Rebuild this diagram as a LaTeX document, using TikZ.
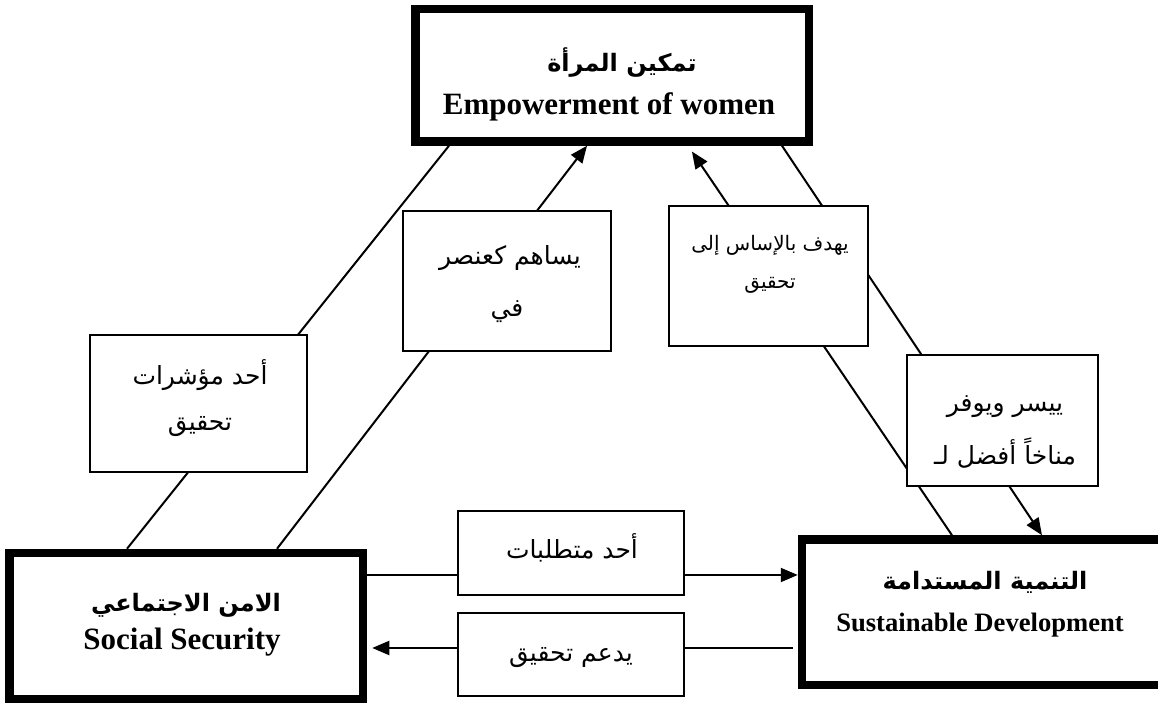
\documentclass[tikz,border=0pt]{standalone}
\usepackage{fontspec}
\setmainfont{Liberation Serif}
\newfontfamily\arabicfont[Script=Arabic]{DejaVu Sans}
\TeXXeTstate=1
\usetikzlibrary{arrows.meta}
\tikzset{
  mainbox/.style={draw, line width=4.25pt, inner sep=0pt},
  labelbox/.style={draw, line width=1pt, fill=white, inner sep=0pt},
  conn/.style={line width=1pt},
  arr/.style={conn, -{Triangle[length=8.5pt,width=7pt]}},
  entext/.style={font=\fontsize{15.5}{18}\selectfont\bfseries, inner sep=0pt},
  entextsm/.style={font=\fontsize{13.3}{16}\selectfont\bfseries, inner sep=0pt},
  arbold/.style={font=\fontsize{12}{15}\selectfont\arabicfont\bfseries, inner sep=0pt},
  artext/.style={font=\fontsize{12.5}{15}\selectfont\arabicfont, inner sep=0pt},
  artextsm/.style={font=\fontsize{10}{13}\selectfont\arabicfont, inner sep=0pt},
}
\begin{document}
\begin{tikzpicture}[x=0.5pt,y=-0.5pt]
\useasboundingbox (0,0) rectangle (1158,704);
\fill[white] (0,0) rectangle (1158,704);
\clip (0,0) rectangle (1158,704);
% main boxes
\node[mainbox, minimum width=196.75pt, minimum height=66.25pt] (emp) at (612.25,75.25) {};
\node[mainbox, minimum width=176.75pt, minimum height=73pt] (ss) at (186.25,626) {};
\node[mainbox, minimum width=180pt, minimum height=72.75pt] (sd) at (982,612.25) {};
% connectors
\draw[conn] (127,0 |- ss.north) -- (449,0 |- emp.south);
\draw[arr] (277,0 |- ss.north) -- (587,0 |- emp.south);
\draw[arr, shorten >=3.5pt] (952,0 |- sd.north) -- (688,0 |- emp.south);
\draw[arr] (782,0 |- emp.south) -- (1042,0 |- sd.north);
\draw[arr] (ss.east |- 0,575) -- (sd.west |- 0,575);
\draw[arr, shorten <=2.5pt, shorten >=2.5pt] (sd.west |- 0,648) -- (ss.east |- 0,648);
% label boxes
\node[labelbox, minimum width=108.5pt, minimum height=68.5pt] (l1) at (198.5,403.5) {};
\node[labelbox, minimum width=104pt, minimum height=70pt] (l2) at (507,281) {};
\node[labelbox, minimum width=99.5pt, minimum height=70pt] (l3) at (768.5,276) {};
\node[labelbox, minimum width=95.5pt, minimum height=65.5pt] (l4) at (1002.5,420.5) {};
\node[labelbox, minimum width=113pt, minimum height=42pt] (l5) at (571,553) {};
\node[labelbox, minimum width=113pt, minimum height=41.5pt] (l6) at (571,654.5) {};
% main texts
\node[arbold] (empAr) at (622,63) {\beginR تمكين المرأة\endR};
\node[entext] (empEn) at (609,107) {Empowerment of women};
\node[arbold] (ssAr) at (186,605) {\beginR الامن الاجتماعي\endR};
\node[entext] (ssEn) at (182,642) {Social Security};
\node[arbold] (sdAr) at (985,582) {\beginR التنمية المستدامة\endR};
\node[entextsm] (sdEn) at (980,625) {Sustainable Development};
% label texts
\node[artext] (t1a) at (200,375) {\beginR أحد مؤشرات\endR};
\node[artext] (t1b) at (200,427) {\beginR تحقيق\endR};
\node[artext] (t2a) at (510,258) {\beginR يساهم كعنصر\endR};
\node[artext] (t2b) at (507,312) {\beginR في\endR};
\node[artextsm] (t3a) at (770,245) {\beginR يهدف بالإساس إلى\endR};
\node[artextsm] (t3b) at (770,285) {\beginR تحقيق\endR};
\node[artext] (t4a) at (1005,407) {\beginR ييسر ويوفر\endR};
\node[artext] (t4b) at (1005,453) {\beginR مناخاً أفضل لـ\endR};
\node[artext] (t5) at (572,548) {\beginR أحد متطلبات\endR};
\node[artext] (t6) at (571,658) {\beginR يدعم تحقيق\endR};
\end{tikzpicture}
\end{document}
